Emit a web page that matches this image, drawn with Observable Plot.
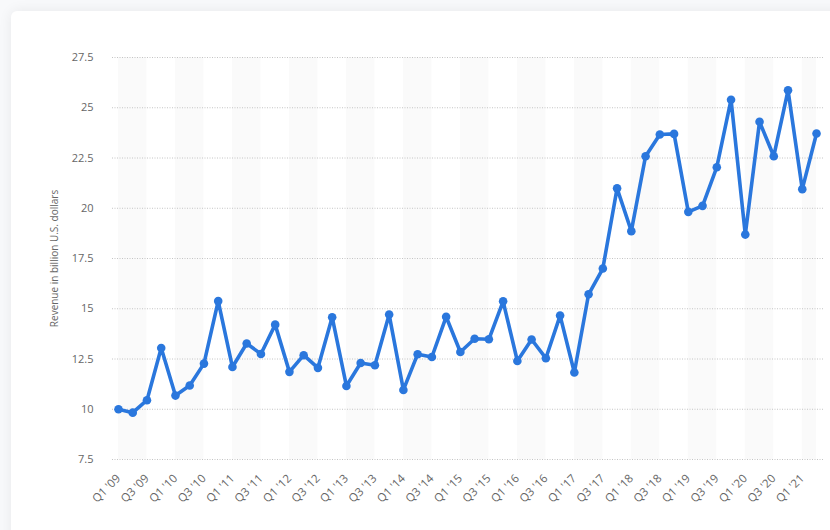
<!DOCTYPE html>
<html>
<head>
<meta charset="utf-8">
<script src="https://cdn.jsdelivr.net/npm/d3@7"></script>
<script src="https://cdn.jsdelivr.net/npm/@observablehq/plot@0.6"></script>
<style>
  html, body { margin: 0; padding: 0; width: 830px; height: 530px; overflow: hidden; background: #f8f9fb; }
  #card { position: absolute; left: 11px; top: 11px; width: 840px; height: 540px; background: #fff; border-radius: 6px; box-shadow: 0 0 14px rgba(0,0,0,0.07); }
  #chart { position: absolute; left: 0; top: 0; }
  #chart svg { background: transparent; }
</style>
</head>
<body>
<div id="card"></div>
<div id="chart"></div>
<script>
const quarters = [
  "Q1 '09","Q2 '09","Q3 '09","Q4 '09",
  "Q1 '10","Q2 '10","Q3 '10","Q4 '10",
  "Q1 '11","Q2 '11","Q3 '11","Q4 '11",
  "Q1 '12","Q2 '12","Q3 '12","Q4 '12",
  "Q1 '13","Q2 '13","Q3 '13","Q4 '13",
  "Q1 '14","Q2 '14","Q3 '14","Q4 '14",
  "Q1 '15","Q2 '15","Q3 '15","Q4 '15",
  "Q1 '16","Q2 '16","Q3 '16","Q4 '16",
  "Q1 '17","Q2 '17","Q3 '17","Q4 '17",
  "Q1 '18","Q2 '18","Q3 '18","Q4 '18",
  "Q1 '19","Q2 '19","Q3 '19","Q4 '19",
  "Q1 '20","Q2 '20","Q3 '20","Q4 '20",
  "Q1 '21","Q2 '21"
];
const revenue = [
  10.0, 9.83, 10.45, 13.05,
  10.68, 11.18, 12.27, 15.38,
  12.1, 13.27, 12.75, 14.21,
  11.86, 12.69, 12.06, 14.58,
  11.16, 12.3, 12.19, 14.71,
  10.96, 12.74, 12.6, 14.6,
  12.85, 13.51, 13.48, 15.37,
  12.4, 13.47, 12.54, 14.66,
  11.83, 15.72, 17.0, 20.99,
  18.86, 22.59, 23.67, 23.7,
  19.82, 20.12, 22.04, 25.4,
  18.69, 24.3, 22.59, 25.87,
  20.95, 23.72
];
const yTicks = [7.5, 10, 12.5, 15, 17.5, 20, 22.5, 25, 27.5];
const yTitle = "Revenue in billion U.S. dollars";

const data = quarters.map((q, i) => ({i, q, v: revenue[i]}));
const last = quarters.length - 1;
const bands = data.filter(d => d.q.startsWith("Q1")).map(d => ({x1: d.i, x2: Math.min(d.i + 2, last)}));
const xTicks = data.filter(d => d.i % 2 === 0).map(d => d.i);

const color = "#2a77dd";
const chart = Plot.plot({
  width: 830,
  height: 530,
  marginLeft: 112,
  marginRight: 6,
  marginTop: 57,
  marginBottom: 71,
  style: {fontFamily: "'Open Sans', sans-serif", fontSize: "11px", color: "#666", background: "transparent"},
  x: {domain: [-0.42, 49.56], axis: null, label: null},
  y: {domain: [7.5, 27.5], axis: null, label: null},
  marks: [
    Plot.rect(bands, {x1: "x1", x2: "x2", y1: 7.5, y2: 27.5, fill: "#fafafa"}),
    Plot.gridY(yTicks, {stroke: "#c4c4c4", strokeOpacity: 1, strokeDasharray: "1,1.5", strokeWidth: 1}),
    Plot.axisY(yTicks, {label: null, tickSize: 0, tickPadding: 19, tickFormat: d => String(d), fill: "#666", fontSize: 11}),
    Plot.axisX(xTicks, {label: null, tickSize: 0, tickPadding: 17, tickRotate: -45, tickFormat: i => quarters[i], fill: "#666", fontSize: 11.5, style: {letterSpacing: "0.3px"}}),
    Plot.text([yTitle], {frameAnchor: "left", dx: -58, rotate: -90, textAnchor: "middle", text: d => d, fill: "#666", fontSize: 10}),
    Plot.line(data, {x: "i", y: "v", stroke: color, strokeWidth: 3.6, strokeLinejoin: "round"}),
    Plot.dot(data, {x: "i", y: "v", r: 4.3, fill: color, stroke: "none"})
  ]
});
document.getElementById("chart").append(chart);
</script>
</body>
</html>
